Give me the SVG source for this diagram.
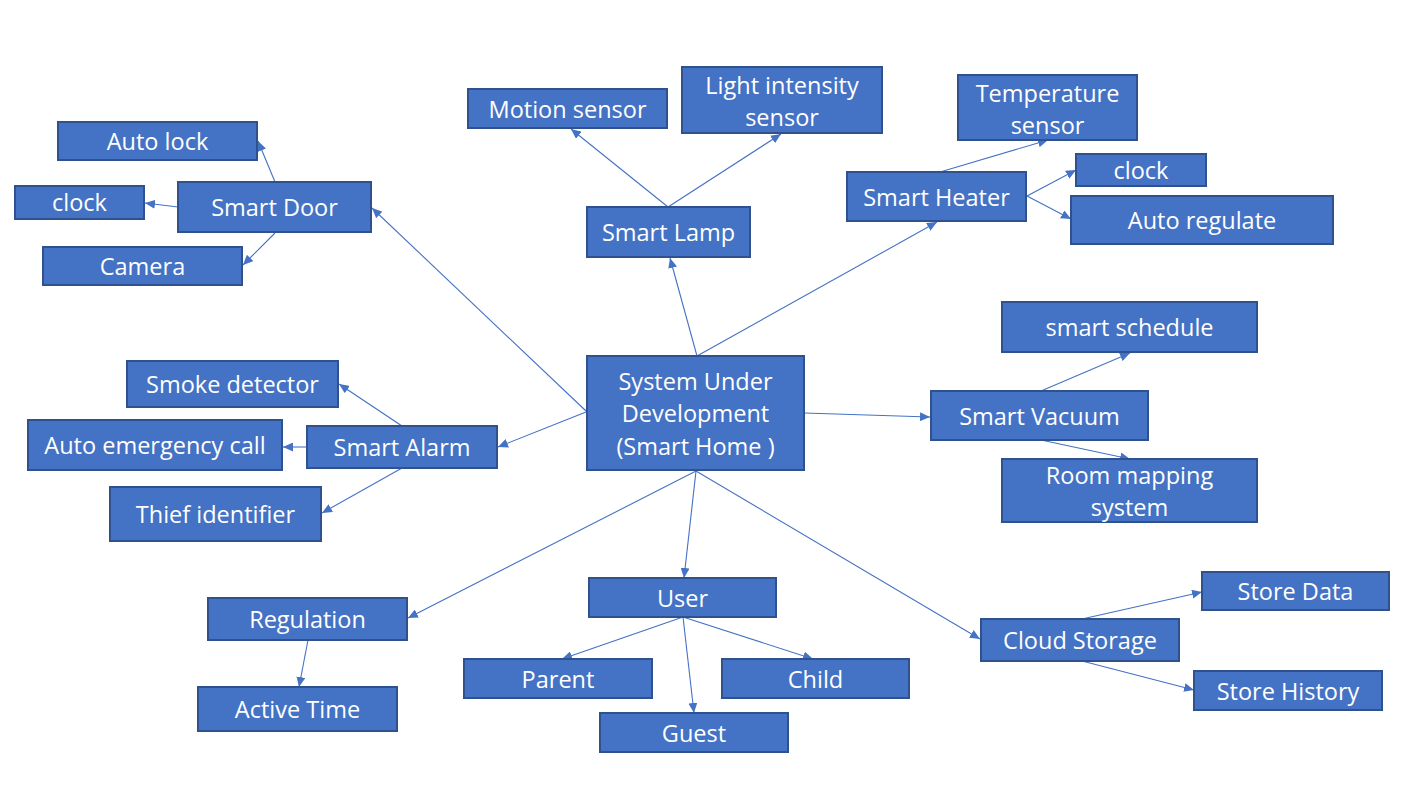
<svg xmlns="http://www.w3.org/2000/svg" width="1416" height="811" viewBox="0 0 1416 811">
<defs>
<marker id="ah" markerUnits="userSpaceOnUse" markerWidth="10" markerHeight="9" refX="10" refY="4.5" orient="auto">
<path d="M0,0 L10,4.5 L0,9 z" fill="#4472C4"/>
</marker>
<style>
.b{fill:#4472C4;stroke:#2F528F;stroke-width:2}
.t{fill:#ffffff;font-family:"Open Sans","Noto Sans","Liberation Sans",sans-serif;font-size:23.5px;text-anchor:middle}
.c line{stroke:#4472C4;stroke-width:1.1;marker-end:url(#ah)}
</style>
</defs>
<rect width="1416" height="811" fill="#ffffff"/>
<g id="connectors" class="c">
<line x1="586" y1="411" x2="372" y2="208"/>
<line x1="275" y1="182" x2="258" y2="141"/>
<line x1="178" y1="207" x2="145" y2="203"/>
<line x1="275" y1="233" x2="243" y2="265"/>
<line x1="697" y1="356" x2="670" y2="258"/>
<line x1="668" y1="207" x2="571" y2="129"/>
<line x1="668" y1="207" x2="781" y2="134"/>
<line x1="697" y1="356" x2="937" y2="222"/>
<line x1="940" y1="172" x2="1048" y2="140"/>
<line x1="1027" y1="196" x2="1076" y2="170"/>
<line x1="1027" y1="196" x2="1071" y2="219"/>
<line x1="804" y1="413" x2="930" y2="417"/>
<line x1="1041" y1="391" x2="1130" y2="353"/>
<line x1="1041" y1="440" x2="1130" y2="459"/>
<line x1="586" y1="412" x2="498" y2="447"/>
<line x1="402" y1="426" x2="339" y2="384"/>
<line x1="307" y1="447" x2="283" y2="447"/>
<line x1="402" y1="468" x2="322" y2="513"/>
<line x1="696" y1="471" x2="408" y2="618"/>
<line x1="308" y1="640" x2="299" y2="687"/>
<line x1="696" y1="471" x2="684" y2="578"/>
<line x1="683" y1="617" x2="562" y2="659"/>
<line x1="683" y1="617" x2="694" y2="713"/>
<line x1="683" y1="617" x2="813" y2="659"/>
<line x1="696" y1="471" x2="980" y2="639"/>
<line x1="1082" y1="619" x2="1202" y2="592"/>
<line x1="1082" y1="661" x2="1194" y2="690"/>
</g>
<g id="center"><rect class="b" x="587" y="356" width="217" height="114"/>
<text class="t" x="695.5" y="390">System Under</text><text class="t" x="695.5" y="422">Development</text><text class="t" x="695.5" y="455">(Smart Home )</text></g>
<g id="smart-door"><rect class="b" x="178" y="182" width="193" height="50"/><text class="t" x="274.5" y="216">Smart Door</text></g>
<g id="auto-lock"><rect class="b" x="58" y="122" width="199" height="38"/><text class="t" x="157.5" y="150">Auto lock</text></g>
<g id="clock-door"><rect class="b" x="15" y="186" width="129" height="33"/><text class="t" x="79.5" y="211">clock</text></g>
<g id="camera"><rect class="b" x="43" y="247" width="199" height="38"/><text class="t" x="142.5" y="275">Camera</text></g>
<g id="smart-lamp"><rect class="b" x="587" y="207" width="163" height="50"/><text class="t" x="668.5" y="241">Smart Lamp</text></g>
<g id="motion-sensor"><rect class="b" x="468" y="89" width="199" height="39"/><text class="t" x="567.5" y="118">Motion sensor</text></g>
<g id="light-sensor"><rect class="b" x="682" y="67" width="200" height="66"/><text class="t" x="782" y="94">Light intensity</text><text class="t" x="782" y="126">sensor</text></g>
<g id="smart-heater"><rect class="b" x="847" y="172" width="179" height="49"/><text class="t" x="936.5" y="206">Smart Heater</text></g>
<g id="temperature-sensor"><rect class="b" x="958" y="75" width="179" height="65"/><text class="t" x="1047.5" y="102">Temperature</text><text class="t" x="1047.5" y="134">sensor</text></g>
<g id="clock-heater"><rect class="b" x="1076" y="154" width="130" height="32"/><text class="t" x="1141" y="179">clock</text></g>
<g id="auto-regulate"><rect class="b" x="1071" y="196" width="262" height="48"/><text class="t" x="1202" y="229">Auto regulate</text></g>
<g id="smart-vacuum"><rect class="b" x="931" y="391" width="217" height="49"/><text class="t" x="1039.5" y="425">Smart Vacuum</text></g>
<g id="smart-schedule"><rect class="b" x="1002" y="302" width="255" height="50"/><text class="t" x="1129.5" y="336">smart schedule</text></g>
<g id="room-mapping"><rect class="b" x="1002" y="459" width="255" height="63"/><text class="t" x="1129.5" y="484">Room mapping</text><text class="t" x="1129.5" y="516">system</text></g>
<g id="smart-alarm"><rect class="b" x="307" y="426" width="190" height="42"/><text class="t" x="402" y="456">Smart Alarm</text></g>
<g id="smoke-detector"><rect class="b" x="127" y="361" width="211" height="46"/><text class="t" x="232.5" y="393">Smoke detector</text></g>
<g id="auto-emergency-call"><rect class="b" x="28" y="420" width="254" height="50"/><text class="t" x="155" y="454">Auto emergency call</text></g>
<g id="thief-identifier"><rect class="b" x="110" y="487" width="211" height="54"/><text class="t" x="215.5" y="523">Thief identifier</text></g>
<g id="regulation"><rect class="b" x="208" y="598" width="199" height="42"/><text class="t" x="307.5" y="628">Regulation</text></g>
<g id="active-time"><rect class="b" x="198" y="687" width="199" height="44"/><text class="t" x="297.5" y="718">Active Time</text></g>
<g id="user"><rect class="b" x="589" y="578" width="187" height="39"/><text class="t" x="682.5" y="607">User</text></g>
<g id="parent"><rect class="b" x="464" y="659" width="188" height="39"/><text class="t" x="558" y="688">Parent</text></g>
<g id="child"><rect class="b" x="722" y="659" width="187" height="39"/><text class="t" x="815.5" y="688">Child</text></g>
<g id="guest"><rect class="b" x="600" y="713" width="188" height="39"/><text class="t" x="694" y="742">Guest</text></g>
<g id="cloud-storage"><rect class="b" x="981" y="619" width="198" height="42"/><text class="t" x="1080" y="649">Cloud Storage</text></g>
<g id="store-data"><rect class="b" x="1202" y="572" width="187" height="38"/><text class="t" x="1295.5" y="600">Store Data</text></g>
<g id="store-history"><rect class="b" x="1194" y="671" width="188" height="39"/><text class="t" x="1288" y="700">Store History</text></g>
</svg>
